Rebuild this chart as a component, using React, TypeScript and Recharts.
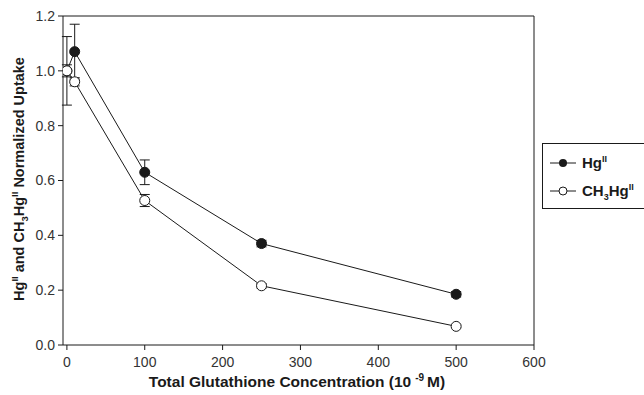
import React from 'react';
import { LineChart, Line, XAxis, YAxis, ErrorBar, ReferenceLine } from 'recharts';

// --- Data ---
const concentrations = [0, 10, 100, 250, 500];
const hgUptake = [1.0, 1.07, 0.63, 0.37, 0.185];
const hgError = [0.022, 0.1, 0.045, 0.012, 0.01];
const meHgUptake = [1.0, 0.96, 0.527, 0.216, 0.068];
const meHgError = [0.125, 0.015, 0.022, 0.008, 0.005];

const xTicks = [0, 100, 200, 300, 400, 500, 600];
const yTicks = [0, 0.2, 0.4, 0.6, 0.8, 1.0, 1.2];

const hgData = concentrations.map((x, i) => ({ x, y: hgUptake[i], err: hgError[i] }));
const meHgData = concentrations.map((x, i) => ({ x, y: meHgUptake[i], err: meHgError[i] }));

const FONT = 'Arial, "Liberation Sans", Helvetica, sans-serif';
const INK = '#1a1a1a';

const FilledDot = (props: any) => {
  const { cx, cy } = props;
  return <circle cx={cx} cy={cy} r={5} fill={INK} stroke={INK} strokeWidth={1} />;
};
const OpenDot = (props: any) => {
  const { cx, cy } = props;
  return <circle cx={cx} cy={cy} r={5} fill="#fff" stroke={INK} strokeWidth={1} />;
};

// --- Legend box on the right ---
const LegendBox = () => (
  <div
    style={{
      position: 'absolute',
      left: 542,
      top: 143,
      border: `1px solid ${INK}`,
      width: 110,
      height: 66,
      boxSizing: 'border-box',
      fontFamily: FONT,
      fontWeight: 'bold',
      fontSize: 15,
      color: INK,
    }}
  >
    <svg width={110} height={64} style={{ display: 'block' }}>
      <line x1={7} y1={19} x2={33} y2={19} stroke={INK} />
      <circle cx={20} cy={19} r={4} fill={INK} />
      <text x={39} y={24} fill={INK}>
        Hg<tspan dy={-6} fontSize={9}>II</tspan>
      </text>
      <line x1={7} y1={47} x2={33} y2={47} stroke={INK} />
      <circle cx={20} cy={47} r={4} fill="#fff" stroke={INK} />
      <text x={39} y={52} fill={INK}>
        CH<tspan dy={4} fontSize={9}>3</tspan>
        <tspan dy={-4}>Hg</tspan>
        <tspan dy={-6} fontSize={9}>II</tspan>
      </text>
    </svg>
  </div>
);

// --- Axis titles ---
const AxisTitles = () => (
  <svg width={644} height={395} style={{ position: 'absolute', left: 0, top: 0, pointerEvents: 'none' }}>
    <text x={297} y={387} textAnchor="middle" fontFamily={FONT} fontWeight="bold" fontSize={15.5} fill={INK}>
      Total Glutathione Concentration (10
      <tspan dx={4} dy={-6} fontSize={10}>-9</tspan>
      <tspan dx={3} dy={6}>M)</tspan>
    </text>
    <text
      transform="translate(24,179) rotate(-90)"
      textAnchor="middle"
      fontFamily={FONT}
      fontWeight="bold"
      fontSize={14.5}
      fill={INK}
    >
      Hg<tspan dy={-6} fontSize={9.5}>II</tspan>
      <tspan dy={6}> and CH</tspan>
      <tspan dy={4} fontSize={9.5}>3</tspan>
      <tspan dy={-4}>Hg</tspan>
      <tspan dy={-6} fontSize={9.5}>II</tspan>
      <tspan dy={6}> Normalized Uptake</tspan>
    </text>
  </svg>
);

export default function App() {
  return (
    <div style={{ position: 'absolute', left: 0, top: 0, width: 644, height: 395, background: '#fff' }}>
      <LineChart width={644} height={395} margin={{ top: 16, right: 110, bottom: 0, left: 0 }}>
        <XAxis
          dataKey="x"
          type="number"
          domain={[-5, 600]}
          ticks={xTicks}
          allowDataOverflow
          height={50}
          stroke={INK}
          tickSize={5}
          tickMargin={7}
          tick={{ fill: '#333', fontSize: 14, fontFamily: FONT }}
        />
        <YAxis
          type="number"
          domain={[0, 1.2]}
          ticks={yTicks}
          allowDataOverflow
          width={63}
          stroke={INK}
          tickSize={5}
          tickMargin={3}
          tickFormatter={(v: number) => v.toFixed(1)}
          tick={{ fill: '#333', fontSize: 14, fontFamily: FONT }}
        />
        {/* frame: top and right edges */}
        <ReferenceLine y={1.2} stroke={INK} />
        <ReferenceLine x={600} stroke={INK} />
        <Line
          data={hgData}
          dataKey="y"
          name="Hg"
          stroke={INK}
          strokeWidth={1}
          dot={<FilledDot />}
          activeDot={false}
          isAnimationActive={false}
        >
          <ErrorBar dataKey="err" direction="y" width={5} stroke={INK} strokeWidth={1} />
        </Line>
        <Line
          data={meHgData}
          dataKey="y"
          name="CH3Hg"
          stroke={INK}
          strokeWidth={1}
          dot={<OpenDot />}
          activeDot={false}
          isAnimationActive={false}
        >
          <ErrorBar dataKey="err" direction="y" width={5} stroke={INK} strokeWidth={1} />
        </Line>
      </LineChart>
      <AxisTitles />
      <LegendBox />
    </div>
  );
}
